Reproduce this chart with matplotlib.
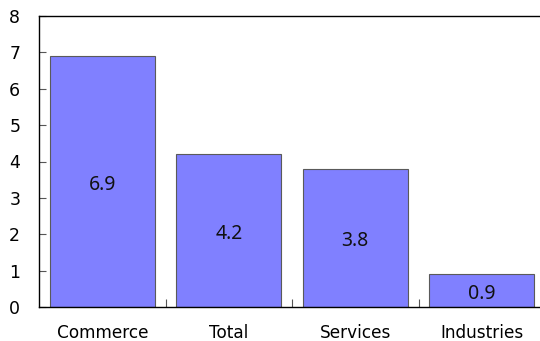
import matplotlib
matplotlib.use("Agg")
import matplotlib.pyplot as plt
import matplotlib.transforms as mtransforms
import numpy as np

categories = ["Commerce", "Total", "Services", "Industries"]
values = [6.9, 4.2, 3.8, 0.9]
yticks = [0, 1, 2, 3, 4, 5, 6, 7, 8]

plt.rcParams['font.family'] = ['DejaVu Sans']

fig = plt.figure(figsize=(5.4, 3.41), dpi=100)
ax = fig.add_axes([39/540, 1-307/341, (545-39)/540, (307-16)/341])

x = np.arange(len(categories))
bars = ax.bar(x, values, width=0.83, color='#8080FF', edgecolor='#5a5a5a', linewidth=0.8)
offset = mtransforms.offset_copy(ax.transData, fig=fig, x=0, y=-2.2, units='points')
for xi, v in zip(x, values):
    ax.text(xi, v/2, f"{v:.1f}", ha='center', va='center', fontsize=14,
            color='#111111', family=['Noto Sans', 'DejaVu Sans'], transform=offset)

ax.set_xlim(-0.5, 3.5)
ax.set_ylim(0, 8)
ax.set_yticks(yticks)
ax.set_yticklabels([str(t) for t in yticks], fontsize=12.5)
ax.set_xticks(x)
ax.set_xticklabels(categories, fontsize=12.2)
ax.tick_params(axis='x', length=0, pad=12)
ax.set_xticks(np.arange(0.5, 3.5, 1), minor=True)
ax.tick_params(axis='x', which='minor', direction='in', length=6, width=0.8, color='#555555')
ax.tick_params(axis='y', direction='in', length=5, width=0.8, color='#555555', pad=13.5)
for s in ['left', 'bottom', 'top']:
    ax.spines[s].set_linewidth(1.0)
    ax.spines[s].set_color('black')
ax.spines['right'].set_visible(False)

fig.savefig("out.png", dpi=100)
